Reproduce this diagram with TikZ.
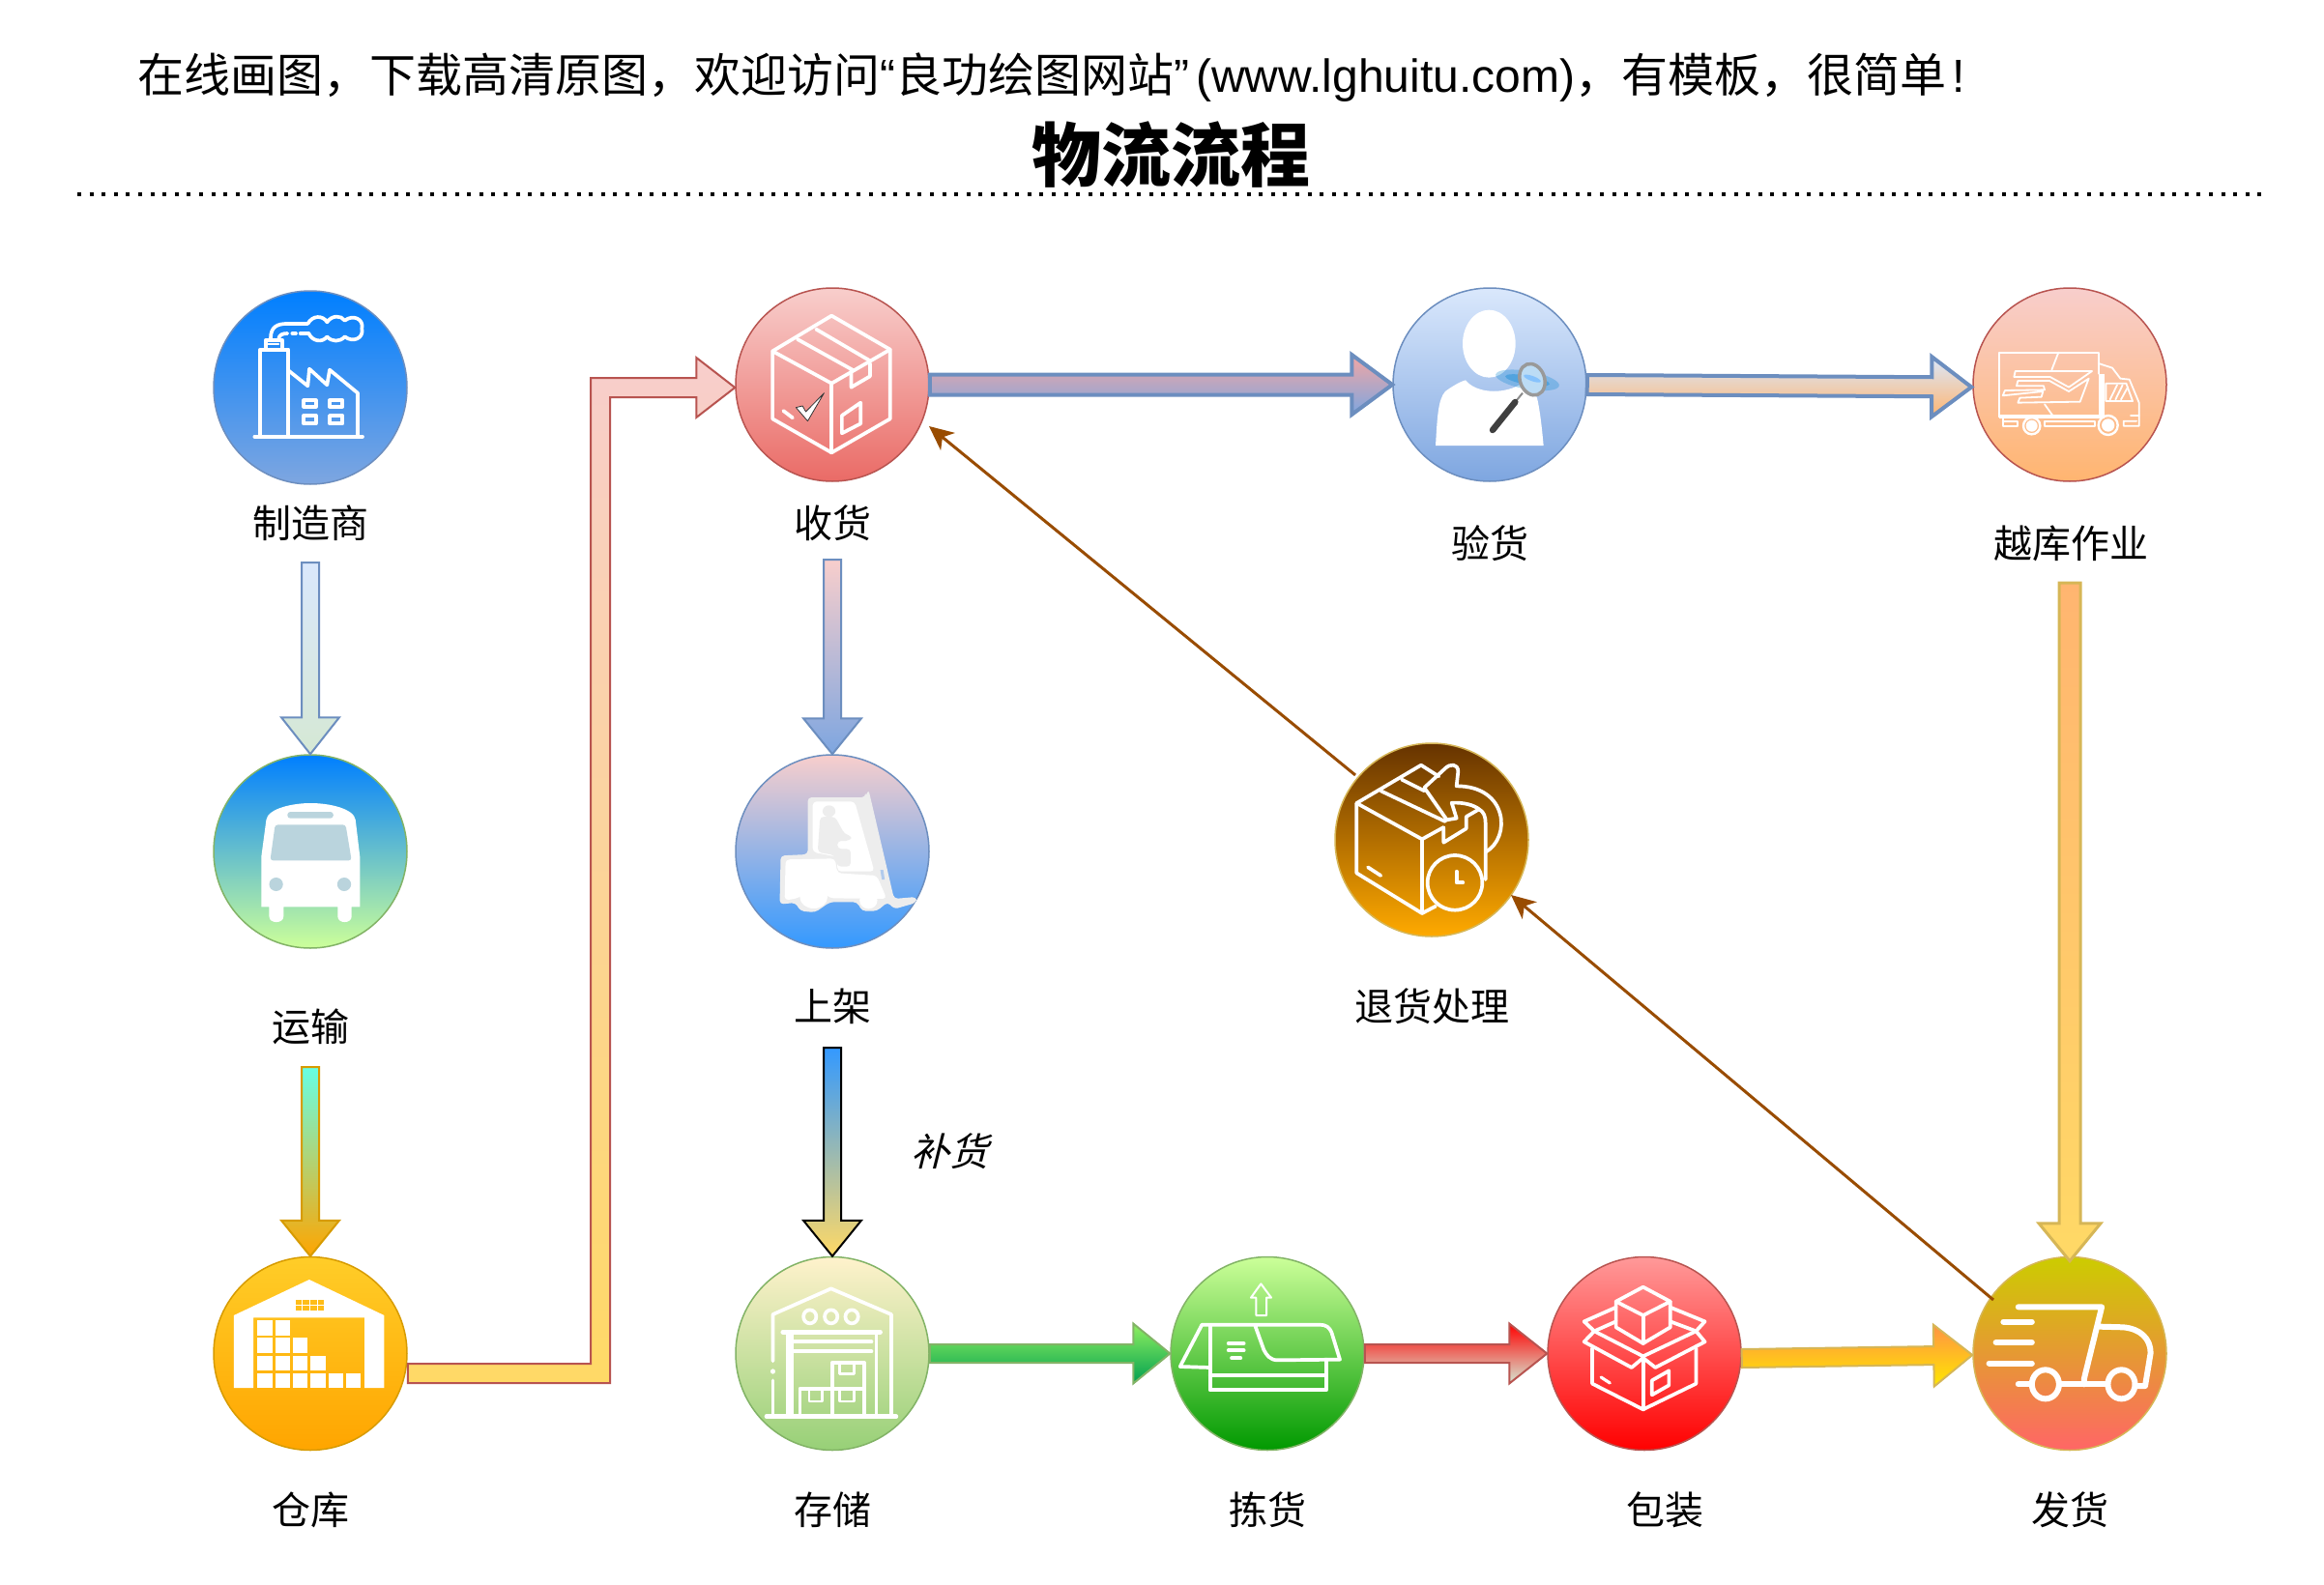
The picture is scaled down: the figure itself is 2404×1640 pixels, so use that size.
\documentclass[tikz,border=0pt]{standalone}
\usepackage{fontspec}
\setmainfont{Noto Sans CJK SC}
\newfontfamily\cjkit[FakeSlant=0.25]{Noto Sans CJK SC}
\newfontfamily\lat{Liberation Sans}
\usetikzlibrary{calc,arrows.meta}
\definecolor{sblue}{HTML}{6C8EBF}
\definecolor{sred}{HTML}{B85450}
\definecolor{sgreen}{HTML}{82B366}
\definecolor{sgold}{HTML}{D6B656}
\definecolor{sorange}{HTML}{D79B00}
\definecolor{brownln}{HTML}{994C00}
\definecolor{paleblue}{HTML}{DAE8FC}
\definecolor{palegreen}{HTML}{D5E8D4}
\definecolor{palered}{HTML}{F8CECC}
\definecolor{paleyel}{HTML}{FFF2CC}
\definecolor{midblue}{HTML}{7EA6E0}
\definecolor{deepblue}{HTML}{007FFF}
\definecolor{skyblue}{HTML}{3399FF}
\definecolor{softred}{HTML}{EA6B66}
\definecolor{softorg}{HTML}{FFB570}
\definecolor{softyel}{HTML}{FFD966}
\definecolor{lime}{HTML}{CCFF99}
\definecolor{dkbrown}{HTML}{663300}
\definecolor{amber}{HTML}{FFAA00}
\definecolor{gold}{HTML}{FFCD28}
\definecolor{orng}{HTML}{FFA500}
\definecolor{leaf}{HTML}{97D077}
\definecolor{grass}{HTML}{009900}
\definecolor{pink}{HTML}{FF9999}
\definecolor{olive}{HTML}{CCCC00}
\definecolor{coral}{HTML}{FF6666}
\definecolor{busglass}{HTML}{BAD4DD}
\definecolor{aqua}{HTML}{66FFE5}
\definecolor{gtop}{HTML}{90F060}
\definecolor{gbot}{HTML}{00A050}
\definecolor{otop}{HTML}{FF9344}
\definecolor{obot}{HTML}{FFE800}
\definecolor{rtop}{HTML}{FF0000}
\definecolor{lens}{HTML}{BCDCF5}
\tikzset{
  disc/.style n args={3}{circle,draw=#1,top color=#2,bottom color=#3,minimum size=200pt,inner sep=0pt,line width=1.5pt},
  lab/.style={inner sep=0pt,font=\fontsize{40}{40}\selectfont},
  arr/.style n args={3}{draw=#1,top color=#2,bottom color=#3,line width=2pt,line join=miter},
  ret/.style={draw=brownln,line width=3pt,-{Stealth[length=25pt,width=23pt,inset=7pt]}},
  ic/.style={draw=white,line width=3.7pt,line join=round,line cap=round},
  zoomA/.style={x=0.33333pt,y=-0.33333pt},
  zoomB/.style={x=0.5102pt,y=-0.33333pt},
  zoomC/.style={x=0.7018pt,y=-0.33333pt},
  zoomD/.style={x=0.4847pt,y=-0.33333pt},
}
% #1 arrow style, #2 from, #3 to, #4 half shaft, #5 half head, #6 head length
\newcommand{\blockarrow}[6]{%
  \coordinate (bA) at (#2);
  \coordinate (bB) at (#3);
  \coordinate (bH) at ($(bB)!#6pt!(bA)$);
  \path[#1] ($(bA)!#4pt!90:(bB)$) -- ($(bH)!#4pt!90:(bB)$) -- ($(bH)!#5pt!90:(bB)$) -- (bB)
     -- ($(bH)!#5pt!-90:(bB)$) -- ($(bH)!#4pt!-90:(bB)$) -- ($(bA)!#4pt!-90:(bB)$) -- cycle;
}
\begin{document}
\begin{tikzpicture}[x=1pt,y=-1pt]
\useasboundingbox (0,0) rectangle (2404,1640);
\fill[white] (0,0) rectangle (2404,1640);

% header
\node[anchor=west,inner sep=0pt,font=\fontsize{48}{48}\selectfont] (hdr) at (142,80)
  {在线画图，下载高清原图，欢迎访问{\lat “}良功绘图网站{\lat ”\hspace{7pt}(www.lghuitu.com)}，有模板，很简单\hspace{6pt}{\lat !}};
\node[inner sep=0pt,font=\fontsize{72}{72}\selectfont\bfseries] (ttl) at (1211,160) {物流流程};
\coordinate (dotL) at (80,201);
\coordinate (dotR) at (2346,201);
\draw[line width=4pt,dash pattern=on 4pt off 8.6pt] (dotL) -- (dotR);

% discs
\node[disc={sblue}{deepblue}{midblue}] (maker) at (321,401) {};
\node[disc={sred}{palered}{softred}] (recv) at (861,398) {};
\node[disc={sblue}{paleblue}{midblue}] (insp) at (1541,398) {};
\node[disc={sred}{palered}{softorg}] (cross) at (2141,398) {};
\node[disc={sgreen}{deepblue}{lime}] (trans) at (321,881) {};
\node[disc={sblue}{palered}{skyblue}] (shelf) at (861,881) {};
\node[disc={sgold}{dkbrown}{amber}] (back) at (1481,869) {};
\node[disc={sorange}{gold}{orng}] (ware) at (321,1400.5) {};
\node[disc={sgreen}{paleyel}{leaf}] (store) at (861,1400.5) {};
\node[disc={sgreen}{lime}{grass}] (pick) at (1311,1400.5) {};
\node[disc={sred}{pink}{red}] (pack) at (1701,1400.5) {};
\node[disc={sgold}{olive}{coral}] (ship) at (2141,1400.5) {};

% labels
\node[lab] (lmaker) at (321,541) {制造商};
\node[lab] (lrecv) at (861,541) {收货};
\node[lab] (linsp) at (1541,562) {验货};
\node[lab] (lcross) at (2142,562) {越库作业};
\node[lab] (ltrans) at (321,1062) {运输};
\node[lab] (lshelf) at (861,1041) {上架};
\node[lab] (lback) at (1481,1041) {退货处理};
\node[lab,font=\fontsize{40}{40}\selectfont\cjkit] (lrep) at (982,1191) {补货};
\node[lab] (lware) at (321,1562) {仓库};
\node[lab] (lstore) at (861,1562) {存储};
\node[lab] (lpick) at (1311,1562) {拣货};
\node[lab] (lpack) at (1722,1562) {包装};
\node[lab] (lship) at (2141,1562) {发货};

% free ends of the block arrows
\coordinate (a1) at (321,582);
\coordinate (a2) at (321,1104);
\coordinate (a3) at (861,579);
\coordinate (a4) at (861,1084);
\coordinate (a5) at (2141,603);

% block arrows
\blockarrow{arr={sblue}{paleblue}{palegreen}}{a1}{trans.north}{9}{30}{38}
\blockarrow{arr={sorange}{aqua}{orng}}{a2}{ware.north}{9}{30}{37}
\blockarrow{arr={sblue}{palered}{midblue}}{a3}{shelf.north}{9}{30}{37}
\blockarrow{arr={black}{skyblue}{softyel}}{a4}{store.north}{9}{30}{37}
\blockarrow{arr={sgold}{softorg}{softyel},line width=3pt}{a5}{$(ship.north)+(0,5)$}{11}{32}{39}
\blockarrow{arr={sblue}{palered!60!softred}{midblue},line width=4pt}{recv.east}{insp.west}{10.5}{31}{42}
\blockarrow{arr={sblue}{paleblue}{softorg},line width=4pt}{insp.east}{$(cross.west)+(-1,2.5)$}{10}{31}{41}
\blockarrow{arr={sgreen}{gtop}{gbot},line width=2pt}{store.east}{pick.west}{9.5}{31}{38}
\blockarrow{arr={sred}{rtop}{palegreen}}{pick.east}{pack.west}{9.5}{31}{39}
\blockarrow{arr={sgold}{otop}{obot}}{$(pack.east)+(0,5)$}{$(ship.west)+(0,1.5)$}{9.5}{32}{40}

% elbow arrow: warehouse to receiving
\coordinate (eS) at ($(ware.east)+(0,20.5)$);
\coordinate (eC) at (621,1421);
\coordinate (eU) at (621,401);
\coordinate (eT) at (recv.west);
\path[arr={sred}{palered}{softyel}]
  ($(eS)+(0,-10)$) -- ($(eC)+(-10,-10)$) -- ($(eU)+(-10,-10)$) -- ($(eT |- eU)+(-40,-10)$)
  -- ($(eT |- eU)+(-40,-31)$) -- (eT |- eU) -- ($(eT |- eU)+(-40,31)$) -- ($(eT |- eU)+(-40,10)$)
  -- ($(eU)+(10,10)$) -- ($(eC)+(10,10)$) -- ($(eS)+(0,10)$) -- cycle;

% return arrows
\draw[ret] ($(back.center)+(-79,-67)$) -- ($(recv.center)+(100,43)$);
\draw[ret] ($(ship.center)+(-79,-55.5)$) -- ($(back.center)+(82,57)$);

% ---------- icons ----------
% factory
\begin{scope}[shift={(180,270)},zoomA]
\draw[ic] (268,545) -- (268,275) -- (355,275) -- (355,545);
\draw[ic] (250,545) -- (585,545);
\draw[ic] (285,272) -- (285,245) -- (335,245) -- (335,272);
\draw[ic,line width=1.6pt] (288,258) -- (325,258);
\draw[ic] (355,340) -- (415,388) -- (420,335) -- (475,385) -- (483,338) -- (570,410) -- (570,545);
\foreach \a/\b/\c/\d in {403/433/440/452,483/433/523/452,403/480/440/505,483/480/523/505}
  \draw[ic] (\a,\b) rectangle (\c,\d);
\draw[ic] (300,240) .. controls (300,205) and (320,195) .. (350,195) -- (415,195);
\draw[ic] (325,240) .. controls (328,230) and (335,225) .. (352,225);
\draw[ic] (367,225) -- (378,225);
\draw[ic] (392,225) -- (418,225);
\draw[ic] (415,195) .. controls (430,168) and (462,168) .. (475,190) .. controls (490,168) and (518,168) .. (530,185)
  .. controls (555,165) and (590,180) .. (583,210) .. controls (590,240) and (555,255) .. (530,235)
  .. controls (515,252) and (490,252) .. (475,235) .. controls (460,255) and (430,250) .. (418,225);
\end{scope}

% receiving box
\begin{scope}[shift={(740,270)},zoomD]
\draw[ic] (248,170) -- (373,275) -- (373,490) -- (248,595) -- (122,490) -- (122,280) -- cycle;
\draw[ic] (122,280) -- (248,380) -- (373,275);
\draw[ic] (248,380) -- (248,595);
\draw[ic] (175,243) -- (295,340);
\draw[ic] (215,212) -- (330,310);
\draw[ic] (290,340) -- (290,392) -- (330,358) -- (330,318);
\draw[ic] (270,480) -- (310,440) -- (310,505) -- (270,535) -- cycle;
\draw[ic] (145,465) -- (165,487);
\draw[fill=white,draw=black!80,line width=.8pt,line join=round] (172,455) -- (186,450) -- (193,468) -- (232,410) -- (197,497) -- cycle;
\end{scope}

% inspector
\begin{scope}[shift={(1430,290)},zoomA]
\fill[white] (331,197) ellipse [x radius=82,y radius=105];
\fill[white] (165,513) .. controls (170,430) and (172,370) .. (195,345) .. controls (215,330) and (240,315) .. (258,310)
  .. controls (290,350) and (370,355) .. (425,325) .. controls (450,340) and (475,350) .. (480,365)
  .. controls (490,410) and (495,460) .. (500,513) -- cycle;
\fill[cyan!70!blue,opacity=.3] (450,310) ellipse [x radius=100,y radius=28,rotate=-10];
\fill[cyan!70!blue,opacity=.4] (450,310) ellipse [x radius=70,y radius=14,rotate=-10];
\draw[black!45,line width=2pt] (435,350) -- (412,378);
\draw[black!75,line width=6.5pt,line cap=round] (412,378) -- (342,465);
\draw[black!40,fill=lens,line width=3.5pt] (465,308) ellipse [x radius=38,y radius=50,rotate=20];
\fill[skyblue!70!white,opacity=.7] (465,305) ellipse [x radius=28,y radius=8,rotate=-20];
\end{scope}

% cross-dock truck
\begin{scope}[shift={(2000,270)},zoomA]
\begin{scope}[every path/.append style={ic,line width=1.8pt}]
\draw (204,484) -- (204,284) -- (512,284) -- (512,350);
\draw (388,284) -- (367,338);
\draw (345,445) -- (373,484);
\draw (250,360) -- (254,342) -- (492,342) -- (420,392) -- (362,360) -- cycle;
\draw (258,388) -- (262,372) -- (360,372) -- (420,405) -- (482,365) -- (455,437) -- (262,440) -- (268,425) -- (335,422) -- (340,405) -- (215,418) -- (222,402) -- (345,400) -- (342,388) -- cycle;
\draw (512,318) -- (555,332) -- (580,365) -- (608,368) -- (638,440) -- (638,512) -- (590,512) -- (590,497) -- (630,497);
\draw (535,380) -- (598,380) -- (618,435) -- (535,435) -- cycle;
\draw (548,430) -- (570,385) (565,430) -- (587,385) (582,430) -- (603,392);
\draw (215,484) -- (215,512) -- (262,512) -- (262,497) -- (215,497);
\draw (345,497) -- (500,497) -- (500,512) -- (345,512) -- cycle;
\draw (612,480) -- (638,480);
\end{scope}
\fill[white] (204,478) rectangle (530,490);
\fill[white] (514,350) rectangle (530,490);
\draw[draw=white,line width=2.4pt] (305,512) circle [radius=26];
\draw[draw=white,line width=2.4pt] (542,510) circle [radius=30];
\fill[white] (305,512) circle [radius=18];
\fill[white] (542,510) circle [radius=20];
\end{scope}

% bus
\begin{scope}[shift={(180,770)},zoomB]
\fill[white] (177,505) -- (177,350) -- (187,235) .. controls (190,200) and (240,183) .. (277,183)
  .. controls (315,183) and (365,200) .. (368,235) -- (377,350) -- (377,505) -- (360,505) -- (360,535)
  .. controls (360,558) and (332,558) .. (332,535) -- (332,505) -- (222,505) -- (222,535)
  .. controls (222,558) and (193,558) .. (193,535) -- (193,505) -- cycle;
\fill[busglass,rounded corners=3pt] (230,210) rectangle (323,230);
\fill[busglass,rounded corners=3pt] (205,250) -- (348,250) -- (360,361) -- (195,361) -- cycle;
\fill[busglass] (207,435) ellipse [x radius=14,y radius=21];
\fill[busglass] (345,435) ellipse [x radius=14,y radius=21];
\end{scope}

% forklift
\begin{scope}[shift={(180,770)},zoomB]
\fill[black!7,rounded corners=4pt] (1402,165) -- (1408,140) -- (1460,480) -- (1505,474) -- (1505,492) -- (1460,512) -- (1447,490)
  -- (1425,518) -- (1395,518) -- (1385,490) -- (1330,490) -- (1300,522) -- (1270,518) -- (1260,492) -- (1228,497) -- (1230,346)
  -- (1285,342) -- (1285,165) -- (1390,165) -- (1402,165) -- cycle;
\fill[white,rounded corners=4pt] (1295,178) -- (1380,178) -- (1420,395) -- (1345,395) -- (1345,350) -- (1295,335) -- cycle;
\fill[white,rounded corners=4pt] (1240,358) -- (1340,355) -- (1345,400) -- (1425,408) -- (1445,480) -- (1330,478) -- (1300,440) -- (1265,478) -- (1238,485) -- cycle;
\fill[white] (1297,475) ellipse [x radius=28,y radius=35];
\fill[white] (1408,485) ellipse [x radius=18,y radius=26];
\fill[black!7] (1328,208) ellipse [x radius=13,y radius=18];
\fill[black!7,rounded corners=4pt] (1310,225) -- (1340,225) -- (1360,280) -- (1375,285) -- (1370,300) -- (1345,300) -- (1345,325) -- (1372,325) -- (1372,380) -- (1345,380) -- (1340,345) -- (1305,335) -- cycle;
\fill[midblue!60!white] (1432,390) -- (1438,390) -- (1441,420) -- (1435,420) -- cycle;
\end{scope}

% returns
\begin{scope}[shift={(1360,750)},zoomA]
\draw[ic] (333,355) -- (130,243) -- (330,125) -- (385,160);
\draw[ic] (130,243) -- (130,460) -- (333,585) -- (333,355) -- (400,318);
\draw[ic] (333,585) -- (375,563);
\draw[ic] (205,205) -- (405,300);
\draw[ic] (270,170) -- (340,205);
\draw[ic] (400,320) -- (400,365) -- (470,322) -- (470,285);
\draw[ic] (470,285) -- (510,262) .. controls (525,270) and (530,285) .. (530,305) -- (530,480);
\draw[ic] (165,442) -- (205,468);
\draw[ic,fill=none] (435,490) circle [radius=85];
\draw[ic] (440,455) -- (440,490) -- (460,490);
\draw[ic] (530,395) .. controls (610,350) and (600,190) .. (440,190) -- (445,145)
  .. controls (445,120) and (420,120) .. (405,135) -- (340,195) -- (410,295) -- (440,290) -- (425,242)
  .. controls (465,240) and (495,250) .. (510,262);
\end{scope}

% warehouse
\begin{scope}[shift={(200,1290)},zoomB]
\fill[white,even odd rule] (82,438) -- (82,213) -- (235,102) -- (387,213) -- (387,438) -- (347,438) -- (347,220) -- (122,220) -- (122,438) -- cycle;
\foreach \c/\rows in {130/4,166/4,202/3,238/2,274/1,310/1}{
  \foreach \r in {1,...,\rows}{
    \pgfmathsetmacro{\yb}{438-(\r-1)*54.5}
    \fill[white] (\c,\yb) rectangle (\c+30,\yb-46);
  }
}
\foreach \c in {207,222,237,252} \foreach \r in {165,182}
  \fill[gold!60!orng] (\c,\r) rectangle (\c+13,\r+15);
\end{scope}

% storage
\begin{scope}[shift={(200,1290)},zoomB]
\draw[ic] (1175,355) -- (1175,210) -- (1293,130) -- (1415,210) -- (1415,520);
\draw[ic] (1175,415) -- (1175,520);
\fill[white] (1175,387) ellipse [x radius=5,y radius=8];
\draw[ic,line width=4.4pt] (1162,527) -- (1425,527);
\foreach \c in {1250,1293,1335} \draw[ic] (\c,217) ellipse [x radius=13,y radius=21];
\draw[ic,line width=4.4pt] (1195,265) -- (1393,265);
\draw[ic] (1205,270) -- (1205,520);
\draw[ic] (1385,270) -- (1385,520);
\draw[ic] (1213,295) -- (1375,295);
\draw[ic] (1213,325) -- (1375,325);
\draw[ic] (1213,270) -- (1213,520);
\draw[ic] (1230,520) -- (1230,440) -- (1360,440) -- (1360,520);
\draw[ic] (1295,520) -- (1295,360) -- (1360,360) -- (1360,440);
\draw[ic,line width=2.4pt] (1248,445) -- (1248,480) -- (1275,480) -- (1275,445);
\draw[ic,line width=2.4pt] (1310,445) -- (1310,480) -- (1340,480) -- (1340,445);
\draw[ic,line width=2.4pt] (1310,365) -- (1310,395) -- (1340,395) -- (1340,365);
\end{scope}

% picking
\begin{scope}[shift={(950,1300)},zoomA]
\draw[ic,line width=2pt] (1048,183) -- (1080,183) -- (1080,128) -- (1095,128) -- (1063,85) -- (1032,128) -- (1048,128) -- cycle;
\draw[ic] (905,215) -- (905,415) -- (1265,415) -- (1265,320);
\draw[ic] (905,370) -- (1265,370);
\draw[ic] (905,345) -- (812,342) -- (880,212) -- (1245,212) .. controls (1265,212) and (1275,220) .. (1282,235) -- (1308,320) -- (1115,322) .. controls (1090,322) and (1080,305) .. (1072,290) -- (1045,215);
\draw[ic] (962,270) -- (1010,270);
\draw[ic] (962,292) -- (1010,292);
\draw[ic] (972,316) -- (1000,316);
\end{scope}

% packing
\begin{scope}[shift={(1200,1290)},zoomC]
\draw[ic] (712,125) -- (752,170) -- (712,213) -- (672,170) -- cycle;
\draw[ic] (672,170) -- (672,250) -- (712,300) -- (752,250) -- (752,170);
\draw[ic] (712,213) -- (712,300);
\draw[ic] (672,188) -- (625,232) -- (640,262) -- (625,295) -- (695,375) -- (712,345) -- (730,375) -- (803,295) -- (790,262) -- (803,232) -- (752,188);
\draw[ic] (640,262) -- (672,232);
\draw[ic] (790,262) -- (752,232);
\draw[ic] (640,262) -- (712,340) -- (790,262);
\draw[ic] (637,315) -- (637,425) -- (712,505) -- (790,425) -- (790,315);
\draw[ic] (712,345) -- (712,505);
\draw[ic,line width=3.2pt] (650,405) -- (663,423);
\draw[ic] (725,415) -- (750,385) -- (750,430) -- (725,460) -- cycle;
\end{scope}

% shipping truck
\begin{scope}[shift={(1200,1290)},zoomC]
\begin{scope}[every path/.append style={ic,line width=6pt}]
\draw (1265,187) -- (1388,187) -- (1362,410) -- (1362,427);
\draw (1243,233) -- (1285,233);
\draw (1232,297) -- (1285,297);
\draw (1222,362) -- (1285,362);
\draw (1385,248) -- (1420,250) .. controls (1445,255) and (1460,285) .. (1460,330) -- (1452,432) -- (1440,432);
\draw (1265,427) -- (1280,427);
\draw (1328,427) -- (1393,427);
\draw (1305,427) ellipse [x radius=20,y radius=45];
\draw (1417,427) ellipse [x radius=20,y radius=45];
\end{scope}
\end{scope}
\end{tikzpicture}
\end{document}
